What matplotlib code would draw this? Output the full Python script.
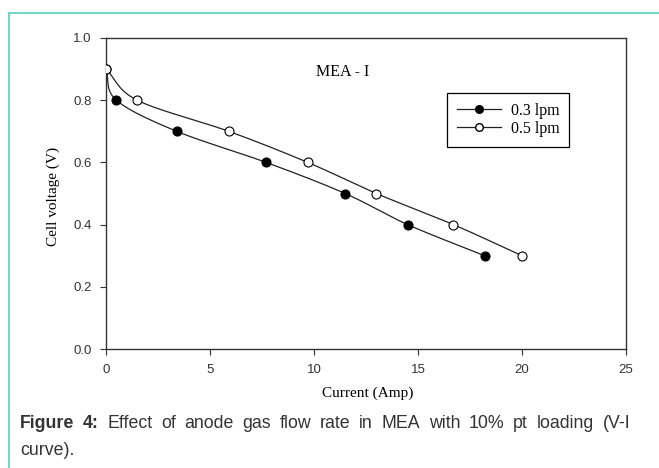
import numpy as np
import matplotlib.pyplot as plt
from matplotlib.lines import Line2D

# data
current_03 = [0.0, 0.5, 3.4, 7.7, 11.5, 14.5, 18.2]
voltage_03 = [0.9, 0.8, 0.7, 0.6, 0.5, 0.4, 0.3]
current_05 = [0.0, 1.5, 5.9, 9.7, 13.0, 16.7, 20.0]
voltage_05 = [0.9, 0.8, 0.7, 0.6, 0.5, 0.4, 0.3]
x_ticks = [0, 5, 10, 15, 20, 25]
y_ticks = [0.0, 0.2, 0.4, 0.6, 0.8, 1.0]


def smooth(x, y, n=30):
    # catmull-rom curve through the points (the plot program draws splines)
    x = np.asarray(x, float)
    y = np.asarray(y, float)
    sx, sy = 25.0, 1.0
    px = np.concatenate([[2 * x[0] - x[1]], x, [2 * x[-1] - x[-2]]]) / sx
    py = np.concatenate([[2 * y[0] - y[1]], y, [2 * y[-1] - y[-2]]]) / sy
    xs, ys = [], []
    t = np.linspace(0, 1, n)
    for i in range(1, len(px) - 2):
        for p, out in ((px, xs), (py, ys)):
            p0, p1, p2, p3 = p[i - 1], p[i], p[i + 1], p[i + 2]
            out.append(0.5 * (2 * p1 + (-p0 + p2) * t
                              + (2 * p0 - 5 * p1 + 4 * p2 - p3) * t ** 2
                              + (-p0 + 3 * p1 - 3 * p2 + p3) * t ** 3))
    return np.concatenate(xs) * sx, np.concatenate(ys) * sy


W, H = 659, 468
fig = plt.figure(figsize=(W / 100, H / 100), dpi=100)

# teal frame of the figure box
teal = '#76d6c8'
fig.add_artist(Line2D([9 / W, 9 / W], [0, 1 - 13 / H], color=teal, lw=1.5))
fig.add_artist(Line2D([9 / W, 1], [1 - 13 / H, 1 - 13 / H], color=teal, lw=1.5))

ax = fig.add_axes([106 / W, 1 - 349 / H, 520 / W, 311 / H])

for xs, ys, face in ((current_03, voltage_03, 'black'),
                     (current_05, voltage_05, 'white')):
    cx, cy = smooth(xs, ys)
    ax.plot(cx, cy, color='#222222', lw=0.9, zorder=2)
    ax.plot(xs, ys, ls='none', marker='o', ms=6.5, mfc=face, mec='black', mew=0.8, zorder=3)

ax.set_xlim(0, 25)
ax.set_ylim(0, 1.0)
ax.set_xticks(x_ticks)
ax.set_yticks(y_ticks)
ax.set_xticklabels([str(v) for v in x_ticks])
ax.set_yticklabels([f'{v:.1f}' for v in y_ticks])
ax.tick_params(direction='out', length=4.5, width=0.8, labelsize=9.5, colors='#333333')
ax.tick_params(axis='x', pad=6)
ax.tick_params(axis='y', pad=6)
for lbl in ax.get_xticklabels() + ax.get_yticklabels():
    lbl.set_family('Liberation Sans')
for s in ax.spines.values():
    s.set_color('#333333')
    s.set_linewidth(1.0)

fig.text(368 / W, 1 - 393 / H, 'Current (Amp)', family='Liberation Serif', fontsize=11,
         ha='center', va='center')
fig.text(53 / W, 1 - 196 / H, 'Cell voltage (V)', family='Liberation Serif', fontsize=11,
         ha='center', va='center', rotation=90)

ax.text(10.1, 0.89, 'MEA - I', family='Liberation Serif', fontsize=11.5, va='center')

handles = [Line2D([], [], color='#222222', lw=0.9, marker='o', ms=5.5, mfc='black', mec='black'),
           Line2D([], [], color='#222222', lw=0.9, marker='o', ms=5.5, mfc='white', mec='black')]
leg = ax.legend(handles, ['0.3 lpm', '0.5 lpm'], loc='upper left',
                bbox_to_anchor=((447 - 106) / 520, 1 - (93 - 38) / 311),
                prop={'family': 'Liberation Serif', 'size': 11.5},
                fancybox=False, edgecolor='black', framealpha=1,
                handlelength=2.8, handletextpad=0.6, labelspacing=0.15,
                borderpad=0.6, borderaxespad=0)
leg.get_frame().set_linewidth(0.9)

# caption: justified first line, bold lead-in
cap_words = ['Figure', '4:', 'Effect', 'of', 'anode', 'gas', 'flow', 'rate', 'in', 'MEA',
             'with', '10%', 'pt', 'loading', '(V-I']
cap_last = 'curve).'
cap_size = 12.8
fig.canvas.draw()
renderer = fig.canvas.get_renderer()
items = []
for i, w in enumerate(cap_words):
    t = fig.text(0, 0, w, fontsize=cap_size, color='#333333', family='Liberation Sans',
                 fontweight='bold' if i < 2 else 'normal', va='baseline')
    items.append((t, t.get_window_extent(renderer).width))
left, right = 20, 630
gap = (right - left - sum(wd for _, wd in items)) / (len(items) - 1)
xpos = left
for t, wd in items:
    t.set_position((xpos / W, 1 - 428 / H))
    xpos += wd + gap
fig.text(left / W, 1 - 455 / H, cap_last, fontsize=cap_size, color='#333333',
         family='Liberation Sans', va='baseline')

fig.savefig('out.png', dpi=100)
